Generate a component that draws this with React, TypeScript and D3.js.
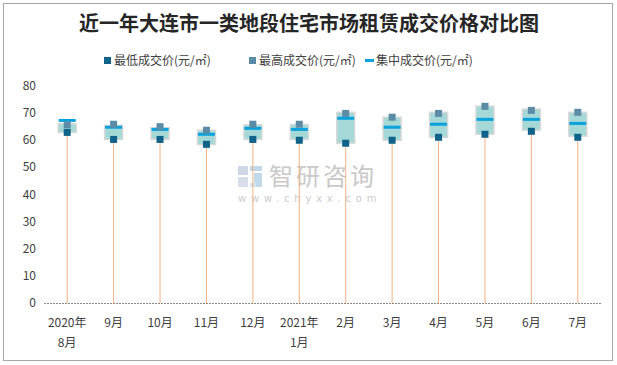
import { useEffect, useRef } from 'react';
import * as d3 from 'd3';

const months = ['2020年\n8月', '9月', '10月', '11月', '12月', '2021年\n1月', '2月', '3月', '4月', '5月', '6月', '7月'];
const lowPrice = [62.9, 60.3, 60.3, 58.5, 60.3, 60.0, 58.9, 60.0, 61.1, 62.2, 63.3, 61.1];
const highPrice = [65.7, 65.9, 65.0, 63.7, 65.9, 65.9, 69.9, 68.5, 69.9, 72.5, 71.0, 70.3];
const midPrice = [67.3, 64.8, 64.0, 62.2, 64.4, 64.0, 68.1, 64.8, 65.9, 67.7, 67.7, 66.2];
const boxTop = [66.1, 65.5, 64.6, 63.7, 65.7, 65.8, 70.3, 68.5, 70.3, 72.6, 71.5, 70.3];
const boxBottom = [62.9, 60.3, 60.3, 58.4, 60.3, 60.3, 58.9, 60.0, 61.0, 62.2, 63.7, 61.5];
const yTicks = [0, 10, 20, 30, 40, 50, 60, 70, 80];

const W = 617;
const H = 365;
const font = '"Microsoft YaHei", "Noto Sans CJK SC", sans-serif';

export default function App() {
  const svgRef = useRef<SVGSVGElement>(null);

  useEffect(() => {
    if (!svgRef.current) return;
    const svg = d3.select(svgRef.current);
    svg.selectAll('*').remove();

    svg.append('rect').attr('width', W).attr('height', H).attr('fill', '#fff');
    svg.append('rect')
      .attr('x', 3.5).attr('y', 3.5).attr('width', 609).attr('height', 357)
      .attr('fill', 'none').attr('stroke', '#a6a6a6').attr('stroke-width', 1);

    // title
    svg.append('text')
      .attr('x', 309).attr('y', 31)
      .attr('text-anchor', 'middle')
      .attr('font-family', '"Noto Sans CJK SC", sans-serif')
      .attr('font-weight', 'bold')
      .attr('font-size', 20)
      .attr('fill', '#262626')
      .text('近一年大连市一类地段住宅市场租赁成交价格对比图');

    // legend
    const legend = [
      { x: 104, label: '最低成交价(元/㎡)', color: '#0f6289', type: 'sq' },
      { x: 249, label: '最高成交价(元/㎡)', color: '#5b8ba6', type: 'sq' },
      { x: 366, label: '集中成交价(元/㎡)', color: '#0aa2dc', type: 'dash' },
    ];
    legend.forEach(l => {
      if (l.type === 'sq') {
        svg.append('rect').attr('x', l.x).attr('y', 57).attr('width', 7).attr('height', 7).attr('fill', l.color);
      } else {
        svg.append('rect').attr('x', l.x - 1).attr('y', 59).attr('width', 9).attr('height', 3).attr('fill', l.color);
      }
      svg.append('text')
        .attr('x', l.x + 10).attr('y', 65)
        .attr('font-family', font).attr('font-size', 12).attr('fill', '#404040')
        .text(l.label);
    });

    const x = d3.scalePoint<string>().domain(months).range([44, 601]).padding(0.5);
    const y = d3.scaleLinear().domain([0, 80]).range([303, 86]);

    // watermark
    const wm = svg.append('g').attr('opacity', 0.9);
    wm.append('rect').attr('x', 238).attr('y', 166).attr('width', 10).attr('height', 9).attr('fill', '#c9d3e3');
    wm.append('rect').attr('x', 238).attr('y', 177).attr('width', 10).attr('height', 10).attr('fill', '#d4dbe7');
    wm.append('rect').attr('x', 250).attr('y', 166).attr('width', 12).attr('height', 5).attr('fill', '#bcd5ea');
    wm.append('rect').attr('x', 254).attr('y', 173).attr('width', 8).attr('height', 14).attr('fill', '#bcd5ea');
    wm.append('rect').attr('x', 250).attr('y', 183).attr('width', 6).attr('height', 4).attr('fill', '#cfe0ef');
    wm.append('text')
      .attr('x', 269).attr('y', 185)
      .attr('font-family', '"Noto Sans CJK SC", sans-serif').attr('font-size', 24)
      .attr('fill', '#c4c4c4').attr('letter-spacing', 3)
      .text('智研咨询');
    wm.append('text')
      .attr('x', 238).attr('y', 202)
      .attr('font-family', '"DejaVu Sans", sans-serif').attr('font-size', 10)
      .attr('fill', '#c8c8c8').attr('letter-spacing', 4.8)
      .text('www.chyxx.com');

    // y axis labels
    svg.append('g')
      .selectAll('text')
      .data(yTicks)
      .join('text')
      .attr('x', 36).attr('y', d => y(d) + 4)
      .attr('text-anchor', 'end')
      .attr('font-family', font).attr('font-size', 12).attr('fill', '#404040')
      .text(d => d);

    const g = svg.append('g');

    // high-low stems from the baseline
    g.selectAll('line.stem')
      .data(months)
      .join('line')
      .attr('class', 'stem')
      .attr('x1', d => x(d)!).attr('x2', d => x(d)!)
      .attr('y1', y(0)).attr('y2', (_, i) => y(lowPrice[i]))
      .attr('stroke', '#f4b183').attr('stroke-width', 1);

    // boxes
    g.selectAll('rect.box')
      .data(months)
      .join('rect')
      .attr('class', 'box')
      .attr('x', d => x(d)! - 9).attr('width', 18)
      .attr('y', (_, i) => y(boxTop[i]))
      .attr('height', (_, i) => y(boxBottom[i]) - y(boxTop[i]))
      .attr('fill', '#a4d9d8').attr('stroke', '#d9d9d9').attr('stroke-width', 1.5);

    // median
    g.selectAll('rect.mid')
      .data(months)
      .join('rect')
      .attr('class', 'mid')
      .attr('x', d => x(d)! - 8.5).attr('width', 17)
      .attr('y', (_, i) => y(midPrice[i]) - 1.5).attr('height', 3)
      .attr('fill', '#0aa2dc');

    // max markers
    g.selectAll('rect.hi')
      .data(months)
      .join('rect')
      .attr('class', 'hi')
      .attr('x', d => x(d)! - 3.5).attr('width', 7)
      .attr('y', (_, i) => y(highPrice[i]) - 3.5).attr('height', 7)
      .attr('fill', '#5b8ba6');

    // min markers
    g.selectAll('rect.lo')
      .data(months)
      .join('rect')
      .attr('class', 'lo')
      .attr('x', d => x(d)! - 3.5).attr('width', 7)
      .attr('y', (_, i) => y(lowPrice[i]) - 3.5).attr('height', 7)
      .attr('fill', '#0f6289');

    // baseline
    svg.append('line')
      .attr('x1', 44).attr('x2', 601)
      .attr('y1', y(0) + 0.5).attr('y2', y(0) + 0.5)
      .attr('stroke', '#898989').attr('stroke-width', 1).attr('stroke-dasharray', '2,1');

    // x labels
    const xl = svg.append('g');
    months.forEach(m => {
      const lines = m.split('\n');
      lines.forEach((t, j) => {
        xl.append('text')
          .attr('x', x(m)!).attr('y', 327 + j * 20)
          .attr('text-anchor', 'middle')
          .attr('font-family', font).attr('font-size', 12).attr('fill', '#404040')
          .text(t);
      });
    });
  }, []);

  return (
    <svg
      ref={svgRef}
      width={W}
      height={H}
      style={{ position: 'absolute', left: 0, top: 0, display: 'block' }}
    />
  );
}
